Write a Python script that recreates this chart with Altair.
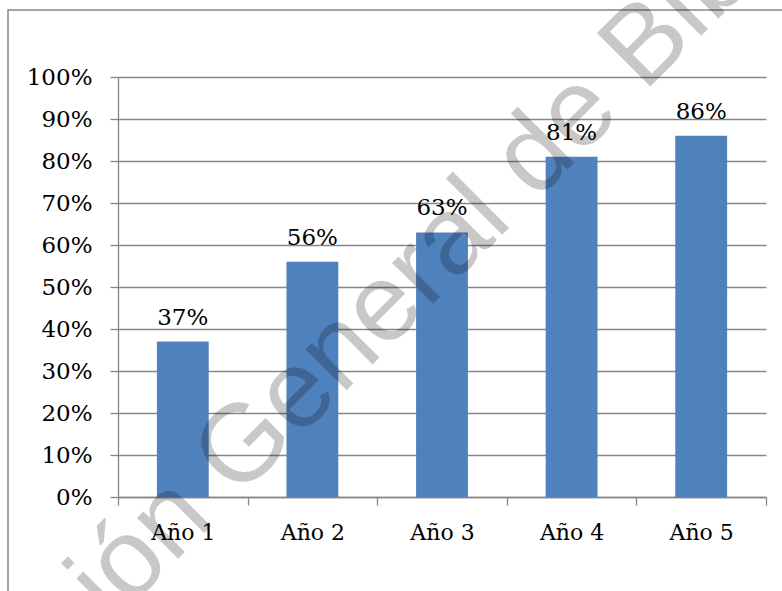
import altair as alt
import pandas as pd

# Share per year
years = ["Año 1", "Año 2", "Año 3", "Año 4", "Año 5"]
shares = [0.37, 0.56, 0.63, 0.81, 0.86]
y_ticks = [0, 0.1, 0.2, 0.3, 0.4, 0.5, 0.6, 0.7, 0.8, 0.9, 1.0]
watermark_text = "Dirección General de Bibliotecas"

df = pd.DataFrame({"year": years, "share": shares})
one_row = pd.DataFrame({"k": [0]})

W, H = 648, 420
GRAY = "#868686"
FONT = "DejaVu Serif"
BLUE = "#4F81BD"

base = alt.Chart(df).encode(
    x=alt.X(
        "year:N",
        sort=years,
        title=None,
        scale=alt.Scale(paddingInner=0, paddingOuter=0),
        axis=alt.Axis(labelAngle=0, tickBand="extent", tickSize=8,
                      labelPadding=17, labelFontSize=22, grid=False),
    ),
    y=alt.Y(
        "share:Q",
        title=None,
        scale=alt.Scale(domain=[0, 1], nice=False),
        axis=alt.Axis(values=y_ticks, format=".0%", grid=True, tickSize=8,
                      labelPadding=18, labelFontSize=23),
    ),
)

bars = base.mark_bar(width=alt.RelativeBandSize(0.4), color=BLUE)

labels = base.mark_text(
    baseline="alphabetic", dy=-17, fontSize=23, font=FONT, color="black"
).encode(text=alt.Text("share:Q", format=".0%"))

# Outer chart frame
frame = alt.Chart(one_row).mark_rect(
    fillOpacity=0, stroke=GRAY, strokeWidth=1.5
).encode(
    x=alt.value(-110), x2=alt.value(W + 60),
    y=alt.value(-67), y2=alt.value(H + 140),
)

# Diagonal watermark across the chart
watermark = alt.Chart(one_row).mark_text(
    text=watermark_text, angle=315, font="Liberation Sans", fontSize=110,
    color="black", opacity=0.21, align="center", baseline="alphabetic",
).encode(x=alt.value(338), y=alt.value(204))

chart = (
    alt.layer(frame, bars, labels, watermark)
    .properties(
        width=W, height=H,
        autosize=alt.AutoSizeParams(type="none"),
        padding={"left": 118, "top": 77, "right": 16, "bottom": 94},
        background="white",
    )
    .configure_view(strokeOpacity=0)
    .configure_axis(
        domainColor=GRAY, tickColor=GRAY, gridColor=GRAY,
        domainWidth=1.3, tickWidth=1.3, gridWidth=1.3,
        labelFont=FONT, labelColor="black",
    )
)

chart.save("out.html", embed_options={"renderer": "svg", "actions": False})
